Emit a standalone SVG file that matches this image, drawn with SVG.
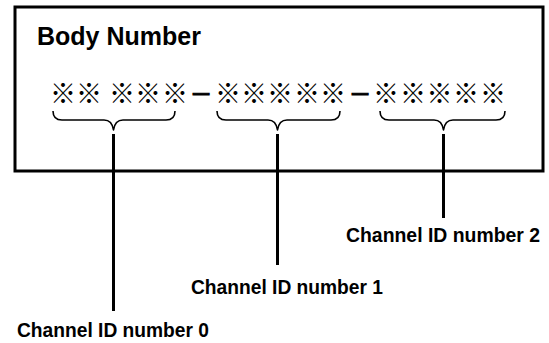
<svg xmlns="http://www.w3.org/2000/svg" width="549" height="343" viewBox="0 0 549 343">
  <style>
    .frame { fill: #ffffff; stroke: #000000; stroke-width: 3; }
    .title { font-family: "Liberation Sans", Arial, sans-serif; font-weight: bold; font-size: 25px; fill: #000000; }
    .mark { font-family: "Noto Sans CJK JP", "DejaVu Sans", sans-serif; font-weight: bold; font-size: 26px; fill: #000000; text-anchor: middle; }
    .dash { font-size: 20px; stroke: #000000; stroke-width: 1; }
    .brace { fill: none; stroke: #000000; stroke-width: 1.6; stroke-linejoin: round; }
    .lead { fill: none; stroke: #000000; stroke-width: 3; }
    .label { font-family: "Liberation Sans", Arial, sans-serif; font-weight: bold; font-size: 20px; fill: #000000; }
  </style>
  <rect width="549" height="343" fill="#ffffff"/>
  <g id="body-number-box">
    <rect class="frame" x="15" y="7" width="528" height="164"/>
    <text class="title" x="37" y="45">Body Number</text>
    <text class="mark" y="102.5"><tspan x="63 89 105 122 148 175">※※ ※※※</tspan><tspan class="dash" x="201" dy="-2.5">—</tspan><tspan x="228 254 280 307 333" dy="2.5">※※※※※</tspan><tspan class="dash" x="360" dy="-2.5">—</tspan><tspan x="386 413 439.5 466 493" dy="2.5">※※※※※</tspan></text>
  </g>
  <g id="brace-0">
    <path class="brace" d="M53,111 Q53,120 62,120 L104,120 Q112,120 113.5,130 Q115,120 123,120 L166,120 Q175,120 175,111"/>
  </g>
  <g id="brace-1">
    <path class="brace" d="M217,111 Q217,120 226,120 L268,120 Q276,120 277.5,130 Q279,120 287,120 L331,120 Q340,120 340,111"/>
  </g>
  <g id="brace-2">
    <path class="brace" d="M380,111 Q380,120 389,120 L434,120 Q442,120 443.5,130 Q445,120 453,120 L496,120 Q505,120 505,111"/>
  </g>
  <g id="label-0">
    <text class="label" x="17" y="337" textLength="192" lengthAdjust="spacingAndGlyphs">Channel ID number 0</text>
  </g>
  <g id="label-1">
    <text class="label" x="191" y="294" textLength="192" lengthAdjust="spacingAndGlyphs">Channel ID number 1</text>
  </g>
  <g id="label-2">
    <text class="label" x="346" y="242" textLength="194" lengthAdjust="spacingAndGlyphs">Channel ID number 2</text>
  </g>
  <g id="connectors">
    <line class="lead" x1="113.5" y1="134" x2="113.5" y2="311"/>
    <line class="lead" x1="277.5" y1="134" x2="277.5" y2="265"/>
    <line class="lead" x1="443.5" y1="134" x2="443.5" y2="218"/>
  </g>
</svg>
